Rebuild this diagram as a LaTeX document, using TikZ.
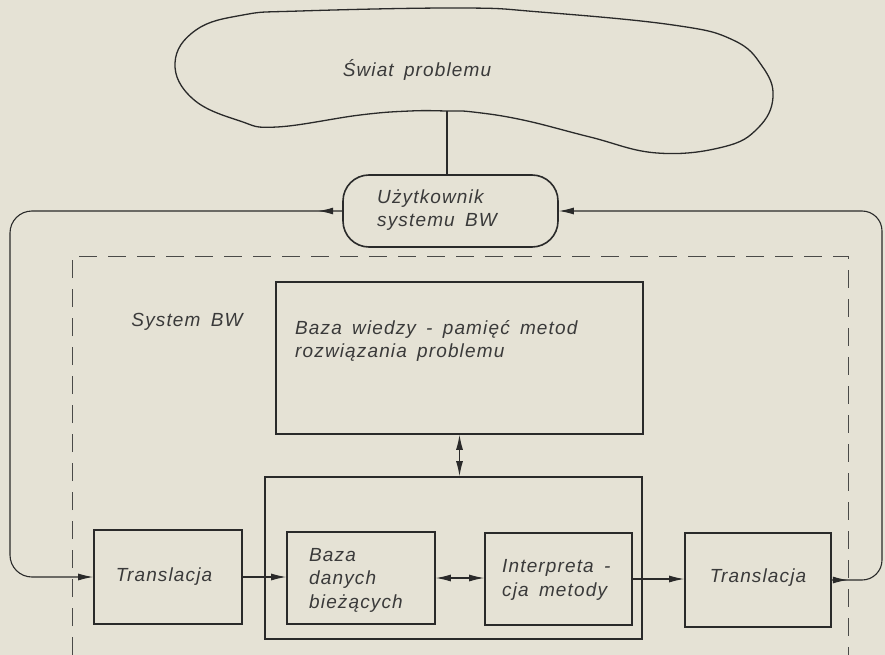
\documentclass[tikz,border=0pt]{standalone}
\usepackage{fontspec}
\newfontfamily\lblfont[LetterSpace=6,WordSpace=1.6]{Liberation Sans}
\usetikzlibrary{arrows.meta,decorations.markings}
\definecolor{paper}{HTML}{E5E2D5}
\definecolor{ink}{HTML}{2A2A2A}
\definecolor{dashink}{HTML}{4A4A48}
\definecolor{txt}{HTML}{3A3A3A}

\begin{document}
\begin{tikzpicture}[x=1pt,y=-1pt,
  lbl/.style={font=\lblfont\itshape\fontsize{19}{23.5}\selectfont, text=txt, align=left, inner sep=0pt},
  box/.style={draw=ink, line width=1.6pt, inner sep=0pt},
  link/.style={draw=ink, line width=1.1pt},
  tipend/.style={-{Latex[length=15pt,width=7pt]}},
  tipboth/.style={{Latex[length=15pt,width=7pt]}-{Latex[length=15pt,width=7pt]}},
  midtip/.style={postaction={decorate}, decoration={markings,
      mark=at position #1 with {\arrow{Latex[length=15pt,width=7pt]}}}},
  frame/.style={draw=dashink, line width=1pt, dash pattern=on 18pt off 11pt}
]
% page and background
\fill[paper] (0,0) rectangle (885,655);
\useasboundingbox (0,0) rectangle (885,655);

% the problem world (cloud)
\draw[ink, line width=1.3pt] plot[smooth cycle, tension=0.7] coordinates {
  (175,63) (196,30) (243,15) (300,11) (460,8) (540,12) (673,25) (733,40)
  (762,66) (773,97) (758,128) (723,147) (657,153) (590,137) (523,120)
  (473,112) (447,111) (410,111) (360,115) (277,127) (240,121) (193,99)};
\node[lbl] (world) at (417,70) {Świat problemu};
\coordinate (cloudbot) at (447,111);

% user of the system
\node[box, rounded corners=26pt, minimum width=215pt, minimum height=72pt]
  (user) at (450.5,211) {};
\node[lbl, anchor=west] (usertext) at (377,210) {Użytkownik\\systemu BW};

% system boundary (dashed)
\coordinate (fbl) at (72,655);
\coordinate (ftl) at (72,256);
\coordinate (ftr) at (848,256);
\coordinate (fbr) at (848,655);
\draw[frame] (fbl) -- (ftl) -- (ftr) -- (fbr);
\node[lbl] (sysname) at (187,322) {System BW};

% knowledge base
\node[box, minimum width=367pt, minimum height=152pt] (kb) at (459.5,358) {};
\node[lbl, anchor=west] (kbtext) at (295,341)
  {Baza wiedzy - pamięć metod\\rozwiązania problemu};

% group of current data and interpretation
\node[box, minimum width=377pt, minimum height=162pt] (grp) at (453.5,558) {};
\node[box, minimum width=148pt, minimum height=92pt] (bd) at (361,578) {};
\node[lbl, anchor=west] (bdtext) at (309,580) {Baza\\danych\\bieżących};
\node[box, minimum width=147pt, minimum height=92pt] (ip) at (558.5,579) {};
\node[lbl, anchor=west] (iptext) at (502,580) {Interpreta -\\cja metody};

% translation blocks
\node[box, minimum width=148pt, minimum height=94pt] (tr1) at (168,577) {};
\node[lbl] (tr1text) at (164,577) {Translacja};
\node[box, minimum width=146pt, minimum height=94pt] (tr2) at (758,580) {};
\node[lbl] (tr2text) at (758,578) {Translacja};

% connectors
\draw[link] (cloudbot) -- (user.north -| cloudbot);
\draw[link, tipboth] (kb.south) -- (kb.south |- grp.north);
\draw[link, tipend] (tr1.east) -- (tr1.east -| bd.west);
\draw[link, tipboth] (bd.east) -- (bd.east -| ip.west);
\draw[link, tipend] (ip.east) -- (ip.east -| tr2.west);

% feedback loops around the system
\coordinate (lt) at (10,211);
\coordinate (lb) at (10,577);
\coordinate (rb) at (882,580);
\coordinate (rt) at (882,211);
\draw[link, rounded corners=22pt, midtip=24pt, tipend]
  (user.west) -- (lt) -- (lb) -- (tr1.west);
\draw[link, rounded corners=20pt, midtip=16pt, tipend]
  (tr2.east) -- (rb) -- (rt) -- (user.east);
\end{tikzpicture}
\end{document}
